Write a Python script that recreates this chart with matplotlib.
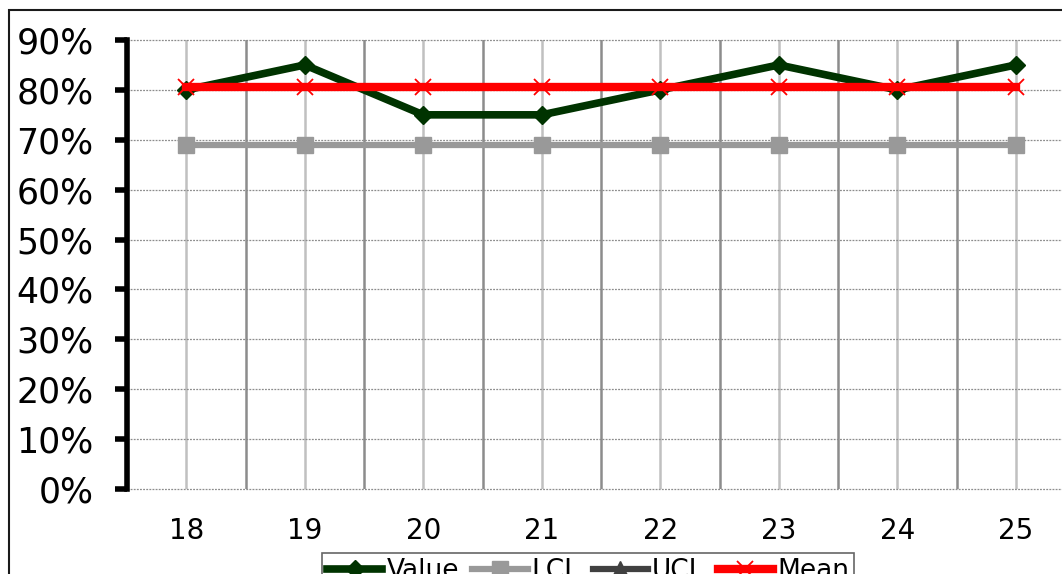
import matplotlib
matplotlib.use("Agg")
import matplotlib.pyplot as plt
from matplotlib.patches import Rectangle
from matplotlib.ticker import FuncFormatter, MultipleLocator

categories = [18, 19, 20, 21, 22, 23, 24, 25]
value = [0.80, 0.85, 0.75, 0.75, 0.80, 0.85, 0.80, 0.85]
lcl = [0.69] * 8
ucl = [0.9225] * 8
mean = [0.80625] * 8

W, H = 1062, 574
fig = plt.figure(figsize=(W / 100, H / 100), dpi=100)
plt.rcParams['font.family'] = ['DejaVu Sans']

# chart frame (extends past the right and bottom edges)
fig.patches.append(Rectangle((9 / W, -0.2), 1.5, (H - 10) / H + 0.2,
                             transform=fig.transFigure, fill=False,
                             edgecolor='#1a1a1a', linewidth=1.5))

left, right, top, bottom = 127, 1075, 40, 489
ax = fig.add_axes([left / W, (H - bottom) / H, (right - left) / W, (bottom - top) / H])
ax.set_xlim(17.5, 25.5)
ax.set_ylim(0, 0.9)

# gridlines
for c in categories:
    ax.axvline(c, color='#c0c0c0', lw=1.8, zorder=1)
    ax.axvline(c + 0.5, color='#8c8c8c', lw=1.8, zorder=1)
for yv in [i / 10 for i in range(10)]:
    ax.axhline(yv, color='#8c8c8c', lw=0.9, ls=(0, (1.5, 1)), zorder=1,
               clip_on=False)

ax.plot(categories, value, color='#003300', lw=5.5, marker='D', ms=9,
        label='Value', zorder=3, clip_on=False)
ax.plot(categories, lcl, color='#999999', lw=4.5, marker='s', ms=11,
        label='LCL', zorder=3)
ax.plot(categories, ucl, color='#404040', lw=4.5, marker='^', ms=11,
        label='UCL', zorder=3)
ax.plot(categories, mean, color='#ff0000', lw=6, marker='x', ms=11, mew=1.3,
        label='Mean', zorder=4)

for s in ['top', 'right', 'bottom']:
    ax.spines[s].set_visible(False)
ax.spines['left'].set_linewidth(4)
ax.spines['left'].set_color('black')

ax.yaxis.set_major_locator(MultipleLocator(0.1))
ax.yaxis.set_major_formatter(FuncFormatter(lambda v, p: f"{v * 100:.0f}%"))
ax.tick_params(axis='y', direction='out', length=9, width=4, labelsize=25, pad=15)
ax.set_xticks(categories)
ax.set_xticklabels([str(c) for c in categories])
ax.tick_params(axis='x', length=0, labelsize=20, pad=20)

leg = fig.legend(loc='upper center', bbox_to_anchor=(588 / W, 1 - 553 / H),
                 ncol=4, fontsize=19, frameon=True, fancybox=False,
                 edgecolor='#404040', handlelength=2.1, handletextpad=0.15,
                 columnspacing=0.5, borderpad=0.2, borderaxespad=0)
leg.get_frame().set_linewidth(1.2)

fig.savefig('out.png', dpi=100)
